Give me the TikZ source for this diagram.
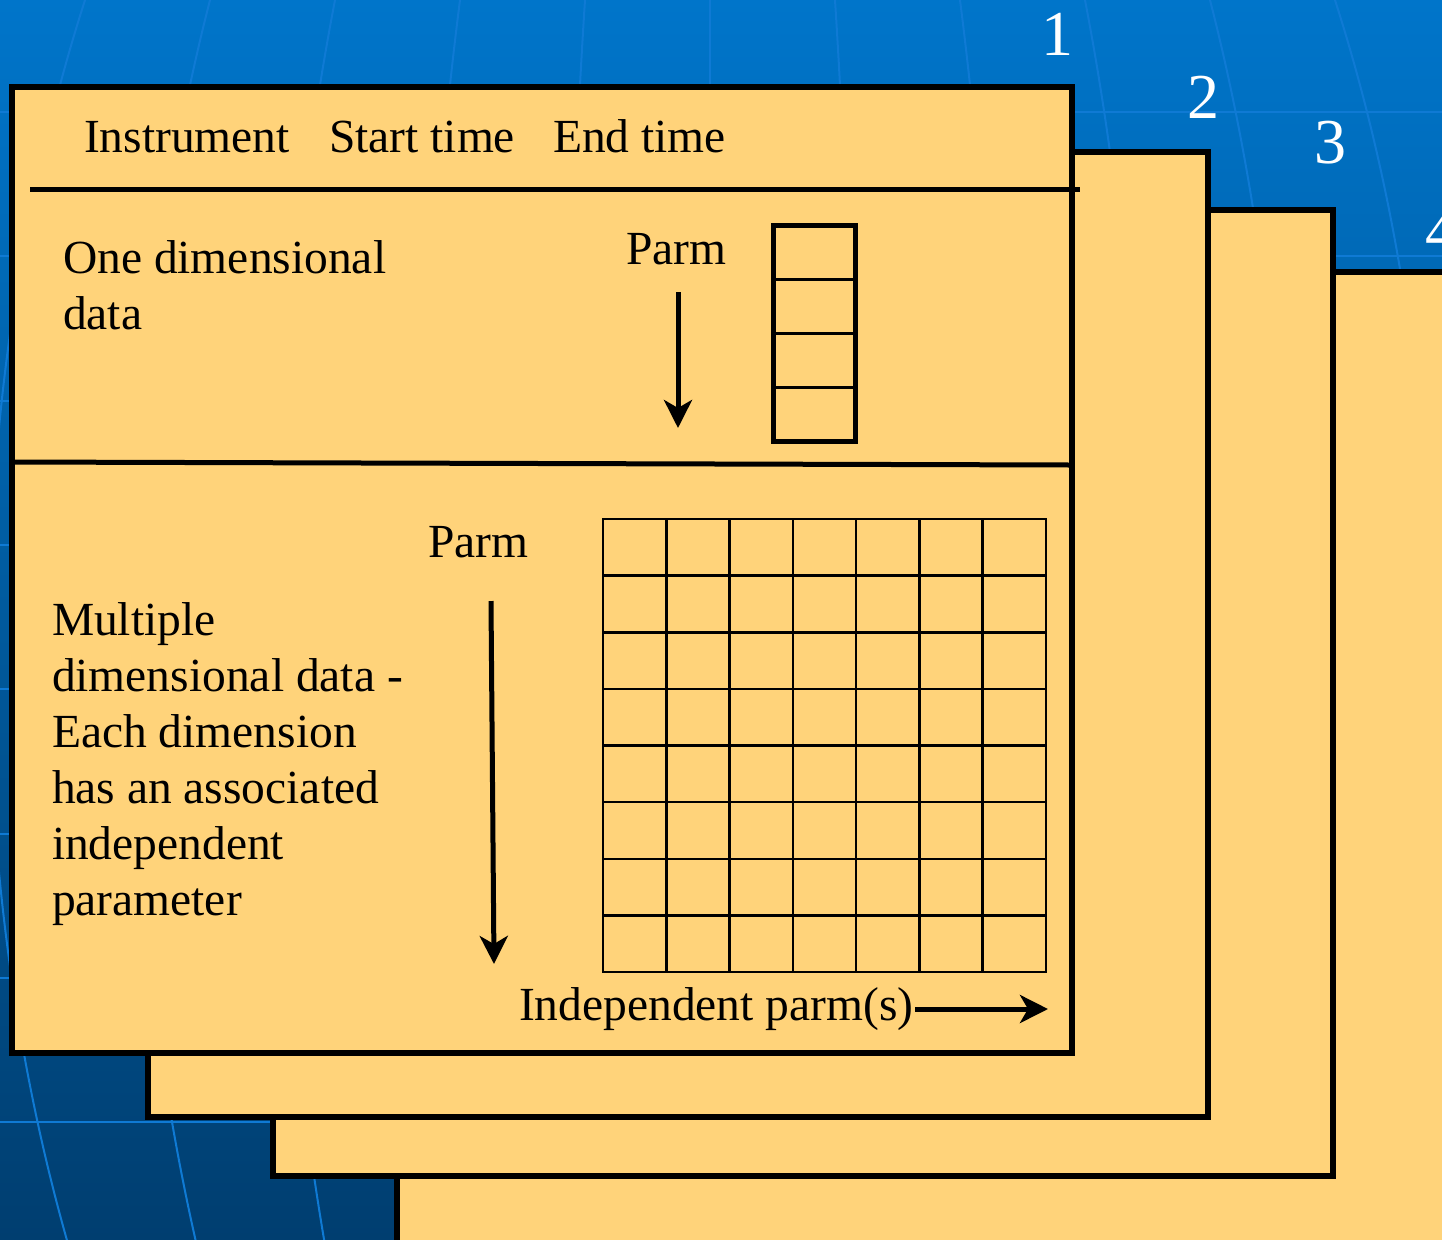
\documentclass[tikz,border=0pt]{standalone}
\usepackage{fontspec}
\setmainfont{Liberation Serif}
\usetikzlibrary{arrows.meta}
\definecolor{sheetfill}{RGB}{255,211,122}
\definecolor{bgtop}{RGB}{0,117,202}
\definecolor{bgbot}{RGB}{0,62,112}
\definecolor{globeline}{RGB}{15,122,212}
\begin{document}
\begin{tikzpicture}[x=0.5pt,y=-0.5pt,
  sheet/.style={draw=black,fill=sheetfill,line width=2.8pt,line join=miter},
  lbl/.style={anchor=base west,inner sep=0pt,outer sep=0pt,font=\fontsize{23.75}{28}\selectfont},
  num/.style={anchor=base,inner sep=0pt,text=white,font=\fontsize{32}{38}\selectfont},
  rule/.style={draw=black,line width=2.5pt},
  gridln/.style={draw=black,line width=1.25pt,line cap=rect},
  cellln/.style={draw=black,line width=1.5pt},
  boxln/.style={draw=black,line width=2.5pt,line join=miter},
  arr/.style={draw=black,line width=2.5pt,-{Stealth[length=14pt,width=14pt,inset=4pt]}},
  globe/.style={draw=globeline,line width=1pt}]
\useasboundingbox (0,0) rectangle (1442,1239);
\begin{scope}
\clip (0,0) rectangle (1442,1239);
% background
\shade[top color=bgtop,bottom color=bgbot] (0,0) rectangle (1442,1239);
\foreach \k in {0,...,7} \draw[globe] (0,{112+144.3*\k}) -- (1442,{112+144.3*\k});
\draw[globe] (710,0) -- (710,1239);
\foreach \k in {1,...,7} \draw[globe] (710,650) ellipse [x radius={144.3*\k}, y radius=1300];
% sheets
\draw[sheet] (397,272) rectangle (1480,1280);
\draw[sheet] (273,210) rectangle (1333,1176);
\draw[sheet] (148,152) rectangle (1208,1117);
\draw[sheet] (12,87) rectangle (1072,1053);
% page numbers
\node[num] (n1) at (1057,55) {1};
\node[num] (n2) at (1203,118) {2};
\node[num] (n3) at (1330,163) {3};
\node[num,anchor=base west] (n4) at (1425,252) {4};
\end{scope}
% rules
\draw[rule] (30,189) -- (1080,189);
\draw[rule] (12,462) -- (1072,465);
% header
\node[lbl] (instr) at (84,152) {Instrument};
\node[lbl] (start) at (329,152) {Start time};
\node[lbl] (endt) at (553,152) {End time};
% one dimensional
\node[lbl] (one) at (63,273) {\begin{tabular}[t]{@{}l@{}}One dimensional\\data\end{tabular}};
\node[lbl] (parmA) at (626,264) {Parm};
\coordinate (aAs) at (678,292);
\coordinate (aAe) at (678,428);
\draw[arr] (aAs) -- (aAe);
\foreach \y in {279,333,387} \draw[cellln] (773,\y) -- (855,\y);
\draw[boxln] (773,225) rectangle (855,441);
% multiple dimensional
\node[lbl] (parmB) at (428,557) {Parm};
\coordinate (aBs) at (491,601);
\coordinate (aBe) at (494,964);
\draw[arr] (aBs) -- (aBe);
\node[lbl] (multi) at (52,635) {\begin{tabular}[t]{@{}l@{}}Multiple\\dimensional data -\\Each dimension\\has an associated\\independent\\parameter\end{tabular}};
\foreach \i in {0,...,7} \draw[gridln] ({603+\i*63.2857},519) -- ({603+\i*63.2857},972);
\foreach \j in {0,...,8} \draw[gridln] (603,{519+\j*56.625}) -- (1046,{519+\j*56.625});
\node[lbl] (indep) at (519,1020) {Independent parm(s)};
\coordinate (aCs) at (915,1009);
\coordinate (aCe) at (1048,1009);
\draw[arr] (aCs) -- (aCe);
\end{tikzpicture}
\end{document}
